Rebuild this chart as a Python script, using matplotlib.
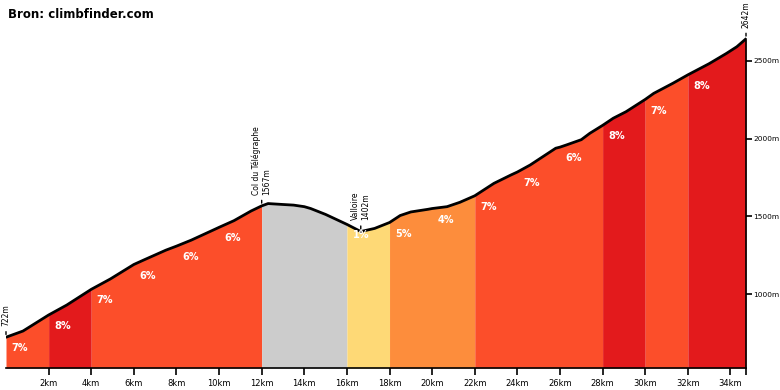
import matplotlib
matplotlib.use("Agg")
import matplotlib.pyplot as plt
import numpy as np

# profile (km, m)
dist_km = [0, 0.8, 2, 2.85, 4, 4.9, 6, 6.5, 7.5, 8, 8.7, 9.7, 10, 10.7, 11.5,
           12, 12.3, 13, 13.5, 14, 14.3, 15, 16, 16.65, 17.3, 18, 18.5, 19,
           19.8, 20, 20.7, 21.3, 22, 22.9, 23.7, 24, 24.6, 25.2, 25.8, 26,
           26.3, 27, 27.4, 28, 28.5, 29.1, 30, 30.4, 31.3, 32, 33, 33.8, 34.3,
           34.73]
elev_m = [722, 762, 865, 929, 1030, 1097, 1190, 1221, 1282, 1308, 1347, 1410,
          1429, 1472, 1534, 1567, 1582, 1576, 1572, 1562, 1550, 1512, 1448,
          1402, 1422, 1460, 1505, 1528, 1545, 1550, 1562, 1590, 1632, 1712,
          1766, 1785, 1830, 1884, 1938, 1945, 1959, 1993, 2034, 2085, 2131,
          2173, 2252, 2291, 2356, 2410, 2482, 2547, 2591, 2642]

# segments: start km, end km, gradient label (None = descent)
seg_start = [0, 2, 4, 6, 8, 10, 12, 16, 18, 20, 22, 24, 26, 28, 30, 32]
seg_end = [2, 4, 6, 8, 10, 12, 16, 18, 20, 22, 24, 26, 28, 30, 32, 34.73]
seg_grade = [7, 8, 7, 6, 6, 6, None, 1, 5, 4, 7, 7, 6, 8, 7, 8]

# named points
poi_km = [0, 12, 16.65, 34.73]
poi_label = ["722m", "Col du Télégraphe\n1567m", "Valloire\n1402m", "2642m"]

title = "Bron: climbfinder.com"


def gradeColor(g):
    if g is None:
        return "#cccccc"
    if g <= 2:
        return "#fed976"
    if g <= 5:
        return "#fd8d3c"
    if g <= 7:
        return "#fc4e2a"
    return "#e31a1c"


x = np.array(dist_km)
y = np.array(elev_m)
ymin, ymax = 524, 2763

fig = plt.figure(figsize=(7.8, 3.9), dpi=100)
ax = fig.add_axes([6 / 780, 22 / 390, 740 / 780, 348 / 390])

# merge neighbouring segments of the same colour so no seams show
runs = []
for s, e, g in zip(seg_start, seg_end, seg_grade):
    c = gradeColor(g)
    if runs and runs[-1][2] == c:
        runs[-1][1] = e
    else:
        runs.append([s, e, c])

for s, e, c in runs:
    m = (x >= s) & (x <= e)
    ax.fill_between(x[m], ymin, y[m], color=c, lw=0)

for s, g in zip(seg_start, seg_grade):
    if g is None:
        continue
    ys = np.interp(s, x, y)
    ax.annotate(f"{g}%", (s, ys), xytext=(4, -8), textcoords="offset points",
                ha="left", va="center", color="white", fontsize=7,
                fontweight="bold", zorder=6)

ax.plot(x, y, color="black", lw=2, solid_capstyle="round", zorder=5)

for k, label in zip(poi_km, poi_label):
    ye = np.interp(k, x, y)
    ax.annotate("", (k, ye), xytext=(0, 6), textcoords="offset points",
                arrowprops=dict(arrowstyle="-", lw=1, color="black"))
    ax.annotate(label, (k, ye), xytext=(0, 8), textcoords="offset points",
                rotation=90, ha="center", va="bottom", fontsize=5.5,
                multialignment="left", color="black")

ax.set_xlim(0, 34.73)
ax.set_ylim(ymin, ymax)

ax.set_xticks(range(2, 35, 2))
ax.set_xticklabels([f"{k}km" for k in range(2, 35, 2)])
ax.set_xticks([34.73], minor=True)
ax.tick_params(axis="x", which="both", length=5, width=1.2, labelsize=6, pad=3)

ax.yaxis.tick_right()
ax.set_yticks([1000, 1500, 2000, 2500])
ax.set_yticklabels(["1000m", "1500m", "2000m", "2500m"])
ax.tick_params(axis="y", length=4, width=1.2, labelsize=5.3, pad=1.5)

for side in ["top", "left"]:
    ax.spines[side].set_visible(False)
ax.spines["bottom"].set_linewidth(1.2)
ax.spines["right"].set_linewidth(1.2)
ax.spines["right"].set_bounds(ymin, 2642)

fig.text(8 / 780, 1 - 15 / 390, title, fontsize=8.5, fontweight="bold",
         va="center", ha="left")

plt.savefig("out.png", dpi=100)
plt.close()
